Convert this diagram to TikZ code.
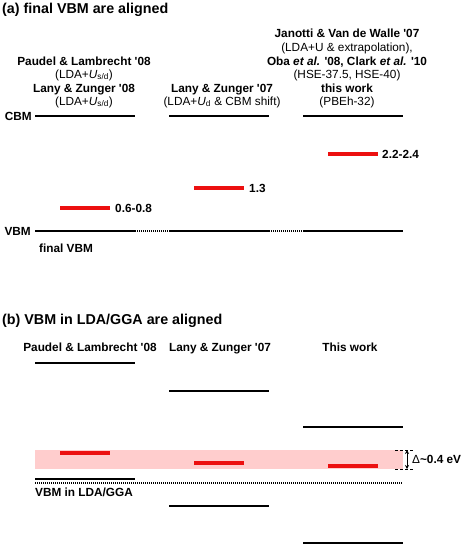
\documentclass[tikz,border=0pt]{standalone}
\usepackage{fontspec}
\setmainfont{Liberation Sans}
\usetikzlibrary{arrows.meta}
\definecolor{barred}{RGB}{236,16,16}
\definecolor{bandpink}{RGB}{255,205,205}
\newcommand{\Usd}{\textit{U}\textsubscript{s/d}}
\newcommand{\yr}[1]{\textquotesingle#1}
\begin{document}
\begin{tikzpicture}[x=1pt,y=-1pt,>={Stealth[length=4pt,width=4pt]},
	level/.style={line width=2.4pt},
	gap/.style={line width=2pt,dash pattern=on 1pt off 1pt},
	defect/.style={draw=barred,line width=4.6pt},
	lbl/.style={inner sep=0pt,anchor=base,font=\fontsize{11.8}{13}\selectfont\bfseries},
	sub/.style={inner sep=0pt,anchor=base,font=\fontsize{11.8}{13}\selectfont},
	ttl/.style={inner sep=0pt,anchor=base west,font=\fontsize{14.3}{16}\selectfont\bfseries}]
	\useasboundingbox (0,0) rectangle (463,546);
	% (a) final VBM are aligned
	\node[ttl] (ta) at (2,13) {(a) final VBM are aligned};
	\node[lbl] (pl1) at (84,65) {Paudel \& Lambrecht \yr{08}};
	\node[sub] (pl2) at (84,78) {(LDA+\Usd)};
	\node[lbl] (lz1) at (84,92) {Lany \& Zunger \yr{08}};
	\node[sub] (lz2) at (84,105) {(LDA+\Usd)};
	\node[lbl] (lzb1) at (222,92) {Lany \& Zunger \yr{07}};
	\node[sub] (lzb2) at (222,105) {(LDA+\textit{U}\textsubscript{d} \& CBM shift)};
	\node[lbl] (jv1) at (347,37) {Janotti \& Van de Walle \yr{07}};
	\node[sub] (jv2) at (347,51) {(LDA+U \& extrapolation),};
	\node[lbl] (oc1) at (347,65) {Oba \textit{et al.} \yr{08}, Clark \textit{et al.} \yr{10}};
	\node[sub] (oc2) at (347,78) {(HSE-37.5, HSE-40)};
	\node[lbl] (tw1) at (347,92) {this work};
	\node[sub] (tw2) at (347,105) {(PBEh-32)};
	\foreach \x in {35,169,303} \draw[level] (\x,116) -- (\x+100,116);
	\foreach \x in {35,169,303} \draw[level] (\x,231) -- (\x+100,231);
	\foreach \x in {135,269} \draw[gap] (\x,231) -- (\x+34,231);
	\node[lbl,anchor=base east] (cbm) at (32,120) {CBM};
	\node[lbl,anchor=base east] (vbm) at (31,235) {VBM};
	\node[lbl,anchor=base west] (fv) at (39,252) {final VBM};
	\draw[defect] (60,208) -- (110,208);
	\draw[defect] (194,188) -- (244,188);
	\draw[defect] (328,154) -- (378,154);
	\node[lbl,anchor=base west] (e1) at (115,212) {0.6-0.8};
	\node[lbl,anchor=base west] (e2) at (249,192) {1.3};
	\node[lbl,anchor=base west] (e3) at (382,158) {2.2-2.4};
	% (b) VBM in LDA/GGA are aligned
	\node[ttl] (tb) at (2,324) {(b) VBM in LDA/GGA are aligned};
	\node[lbl] (pb) at (90,351) {Paudel \& Lambrecht \yr{08}};
	\node[lbl] (lb) at (220,351) {Lany \& Zunger \yr{07}};
	\node[lbl] (wb) at (350,351) {This work};
	\fill[bandpink] (35,450) rectangle (403,469);
	\draw[level] (35,363) -- (135,363) (35,479) -- (135,479);
	\draw[level] (169,391) -- (269,391) (169,506) -- (269,506);
	\draw[level] (303,427) -- (403,427) (303,543) -- (403,543);
	\draw[gap,line width=1.6pt] (35,483) -- (403,483);
	\node[lbl,anchor=base west] (vl) at (35,496) {VBM in LDA/GGA};
	\draw[defect] (60,453) -- (110,453);
	\draw[defect] (194,463) -- (244,463);
	\draw[defect] (328,466) -- (378,466);
	\coordinate (dtop) at (407,450);
	\coordinate (dbot) at (407,469);
	\draw[densely dashed,line width=0.8pt] (395,450) -- (413,450) (395,469) -- (413,469);
	\draw[<->,line width=0.9pt] (dtop) -- (dbot);
	\node[lbl,anchor=base west] (dl) at (412,463) {{\mdseries Δ}\textasciitilde0.4 eV};
\end{tikzpicture}
\end{document}
